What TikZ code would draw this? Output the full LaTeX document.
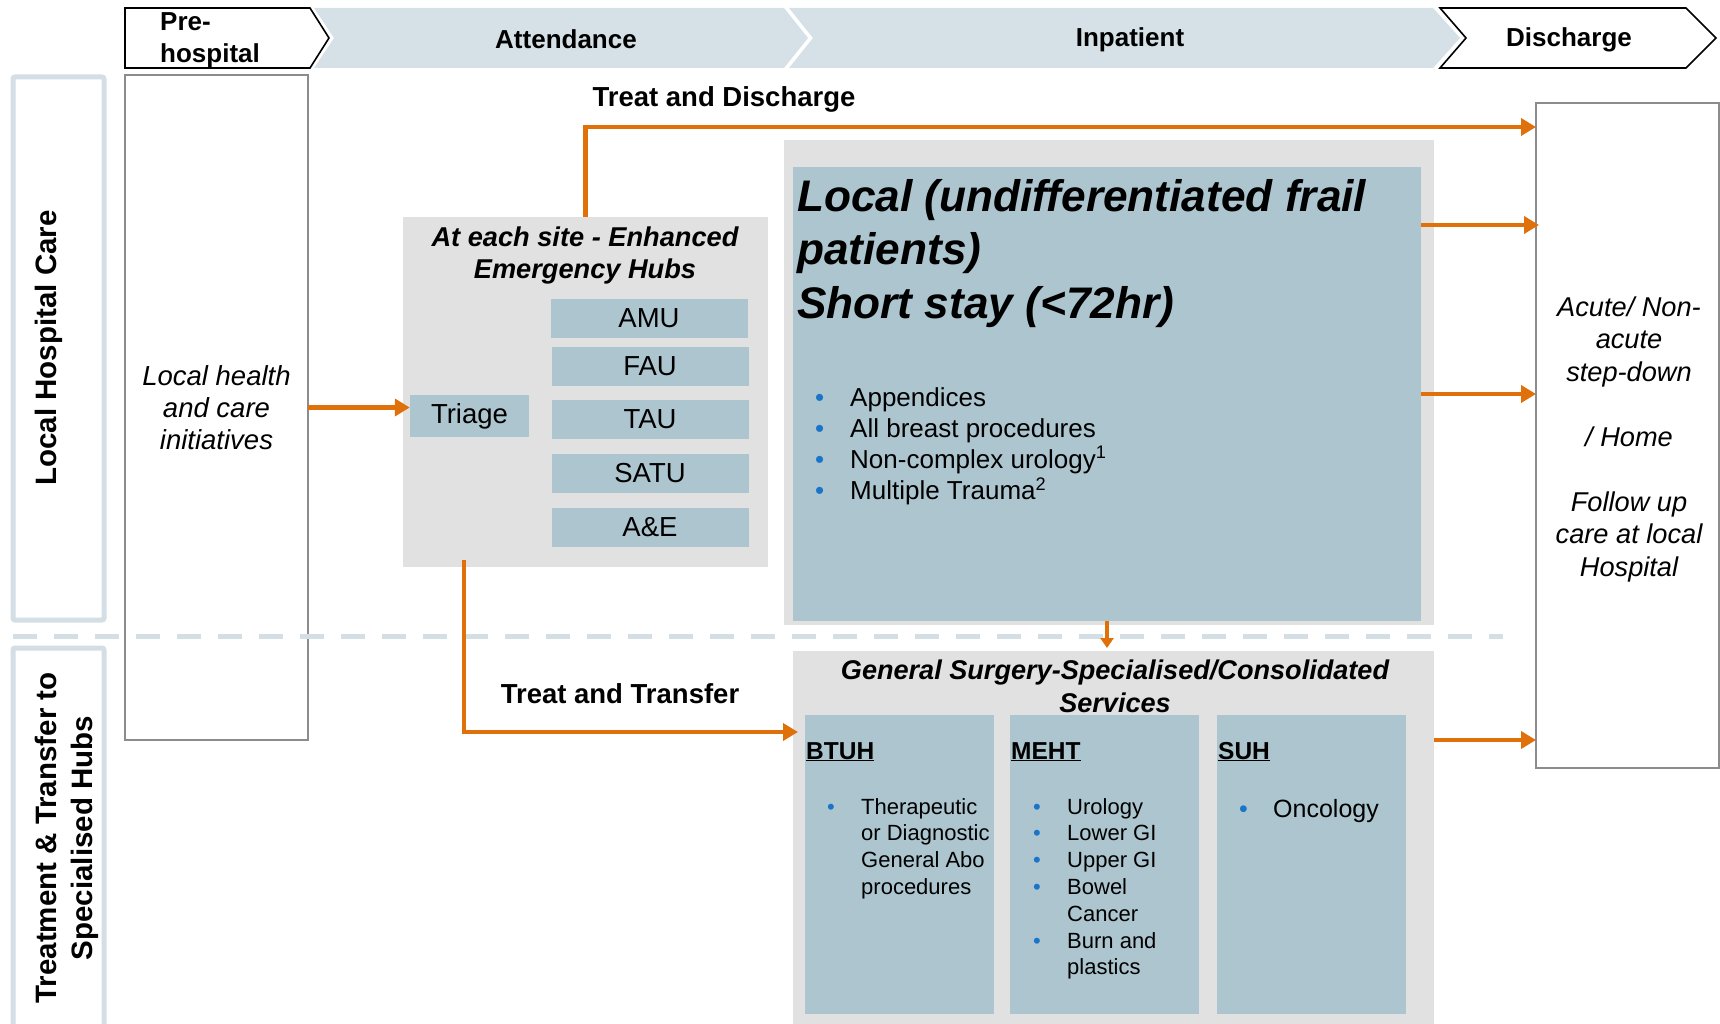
\documentclass[tikz,border=0pt]{standalone}
\usepackage{fontspec}
\setmainfont{Liberation Sans}
\usetikzlibrary{arrows.meta}
\definecolor{chev}{HTML}{D5E1E7}
\definecolor{lanec}{HTML}{D3DEE5}
\definecolor{hubgrey}{HTML}{E1E1E1}
\definecolor{unitblue}{HTML}{ACC5CF}
\definecolor{orng}{HTML}{E0700A}
\definecolor{bulblue}{HTML}{1A75C8}
\definecolor{frame}{HTML}{8C8C8C}
\newcommand\fsz[2]{\fontsize{#1}{#2}\selectfont}
\newcommand\blt{\textcolor{bulblue}{•}}
\tikzset{
  nw/.style={anchor=north west, inner sep=0pt, outer sep=0pt},
  whitebox/.style={nw, draw=frame, line width=1.5pt, fill=white},
  lanebox/.style={nw, draw=lanec, line width=5pt, rounded corners=2pt, fill=white},
  greybox/.style={nw, fill=hubgrey},
  bluebox/.style={nw, fill=unitblue},
  unit/.style={fill=unitblue, inner sep=0pt, minimum width=197pt, minimum height=39pt,
    font=\fsz{27.5}{32}},
  chevtext/.style={font=\bfseries\fsz{26}{32}, inner sep=0pt},
  lanetext/.style={font=\bfseries\fsz{29.5}{36}, rotate=90, align=center, inner sep=0pt},
  flowlabel/.style={font=\bfseries\fsz{27.5}{31}, inner sep=0pt},
  flow/.style={draw=orng, line width=4.5pt, -{Triangle[length=15pt,width=17pt]}},
  smallflow/.style={draw=orng, line width=3.5pt, -{Triangle[length=10pt,width=13pt]}},
  list/.style={anchor=base west, inner sep=0pt}
}
\begin{document}
\begin{tikzpicture}[x=1pt,y=-1pt]
\useasboundingbox (0,0) rectangle (1720,1024);

% ---- phase chevrons ----
\path[fill=white, draw=black, line width=1.6pt]
  (125,8) -- (310,8) -- (329,38) -- (310,68) -- (125,68) -- cycle;
\fill[chev] (314,8) -- (784,8) -- (808,38) -- (784,68) -- (314,68) -- (334,38) -- cycle;
\fill[chev] (789,8) -- (1433,8) -- (1460,38) -- (1433,68) -- (789,68) -- (813,38) -- cycle;
\path[fill=white, draw=black, line width=1.6pt]
  (1440,8) -- (1686,8) -- (1716,38) -- (1686,68) -- (1440,68) -- (1466,38) -- cycle;
\node[chevtext, anchor=west, align=left] (phpre) at (160,40) {Pre-\\hospital};
\node[chevtext] (phatt) at (566,39) {Attendance};
\node[chevtext] (phinp) at (1130,40) {Inpatient};
\node[chevtext] (phdis) at (1569,40) {Discharge};

% ---- swim-lane labels ----
\node[lanebox, minimum width=91pt, minimum height=543pt] (lanelocal) at (13,77) {};
\node[lanetext] (lanelocaltxt) at (49,348) {Local Hospital Care};
\node[lanebox, minimum width=91pt, minimum height=400pt] (lanehubs) at (13,648) {};
\node[lanetext] (lanehubstxt) at (67,838) {Treatment \& Transfer to\\Specialised Hubs};

% ---- pre-hospital column ----
\node[whitebox, minimum width=183pt, minimum height=665pt,
  font=\itshape\fsz{27.5}{32}, align=center] (lh) at (125,75)
  {Local health\\and care\\initiatives};

% lane separator
\draw[lanec, line width=5pt, dash pattern=on 24pt off 17pt] (13,636) -- (1503,636);

% ---- emergency hub ----
\node[greybox, minimum width=365pt, minimum height=350pt] (hub) at (403,217) {};
\node[font=\bfseries\itshape\fsz{27.2}{32}, align=center, inner sep=0pt] (hubtitle) at (585,255)
  {At each site - Enhanced\\Emergency Hubs};
\node[unit, minimum width=119pt, minimum height=42pt] (triage) at (469.5,416) {Triage};
\node[unit] (amu)  at (649,318.5) {AMU};
\node[unit] (fau)  at (650,366) {FAU};
\node[unit] (tau)  at (650,419.5) {TAU};
\node[unit] (satu) at (650,473.5) {SATU};
\node[unit] (ae)   at (650,527.5) {A\&E};

% ---- local short stay ----
\node[greybox, minimum width=650pt, minimum height=485pt] (localbg) at (784,140) {};
\node[bluebox, minimum width=628pt, minimum height=454pt] (local) at (793,167) {};
\node[anchor=north west, inner sep=0pt, align=left,
  font=\bfseries\itshape\fsz{44.2}{53.5}] (localtitle) at (797,179)
  {Local (undifferentiated frail\\patients)\\Short stay (<72hr)};
\node[list, font=\fsz{26}{31}] (locallist) at (815,406)
  {\begin{tabular}[t]{@{}p{35pt}@{}l@{}}
    \blt & Appendices\\
    \blt & All breast procedures\\
    \blt & Non-complex urology\textsuperscript{1}\\
    \blt & Multiple Trauma\textsuperscript{2}
  \end{tabular}};

% ---- specialised services ----
\node[greybox, minimum width=641pt, minimum height=390pt] (gsbg) at (793,651) {};
\node[font=\bfseries\itshape\fsz{27.1}{33}, align=center, inner sep=0pt] (gstitle) at (1115,686)
  {General Surgery-Specialised/Consolidated\\Services};
\node[bluebox, minimum width=189pt, minimum height=299pt] (btuh) at (805,715) {};
\node[bluebox, minimum width=189pt, minimum height=299pt] (meht) at (1010,715) {};
\node[bluebox, minimum width=189pt, minimum height=299pt] (suh)  at (1217,715) {};
\node[list, font=\bfseries\fsz{24.5}{28}] (btuhhead) at (806,759) {\underline{BTUH}};
\node[list, font=\bfseries\fsz{24.5}{28}] (mehthead) at (1011,759) {\underline{MEHT}};
\node[list, font=\bfseries\fsz{24.5}{28}] (suhhead)  at (1218,759) {\underline{SUH}};
\node[list, font=\fsz{22}{26.8}] (btuhlist) at (827,814)
  {\begin{tabular}[t]{@{}p{34pt}@{}l@{}}
    \blt & Therapeutic\\
         & or Diagnostic\\
         & General Abo\\
         & procedures
  \end{tabular}};
\node[list, font=\fsz{22}{26.8}] (mehtlist) at (1033,814)
  {\begin{tabular}[t]{@{}p{34pt}@{}l@{}}
    \blt & Urology\\
    \blt & Lower GI\\
    \blt & Upper GI\\
    \blt & Bowel\\
         & Cancer\\
    \blt & Burn and\\
         & plastics
  \end{tabular}};
\node[list, font=\fsz{25}{30}] (suhlist) at (1239,817)
  {\begin{tabular}[t]{@{}p{34pt}@{}l@{}}
    \blt & Oncology
  \end{tabular}};

% ---- discharge ----
\node[whitebox, minimum width=183pt, minimum height=665pt] (dis) at (1536,103) {};
\node[font=\itshape\fsz{27.2}{32.5}, align=center, inner sep=0pt] (distxt) at (1629,439)
  {Acute/ Non-\\acute\\step-down\\[32.5pt]/ Home\\[32.5pt]Follow up\\care at local\\Hospital};

% ---- flows ----
\draw[flow] (lh.east) -- (lh.east -| triage.west);
\draw[flow] (hub.north) |- ([yshift=-24pt]dis.north west);
\node[flowlabel] (tdlabel) at (724,99) {Treat and Discharge};
\draw[flow] ([xshift=61pt,yshift=7pt]hub.south west) |- ([xshift=5pt,yshift=-81pt]gsbg.north west);
\node[flowlabel] (ttlabel) at (620,694) {Treat and Transfer};
\draw[flow] ([yshift=-58pt]local.north east) coordinate (o1) -- ([xshift=3pt]o1 -| dis.west);
\draw[flow] ([yshift=-227pt]local.north east) coordinate (o2) -- (o2 -| dis.west);
\draw[smallflow] (local.south) -- ([yshift=3pt]local.south |- gsbg.north);
\draw[flow] ([yshift=-89pt]gsbg.north east) coordinate (o3) -- (o3 -| dis.west);
\end{tikzpicture}
\end{document}
